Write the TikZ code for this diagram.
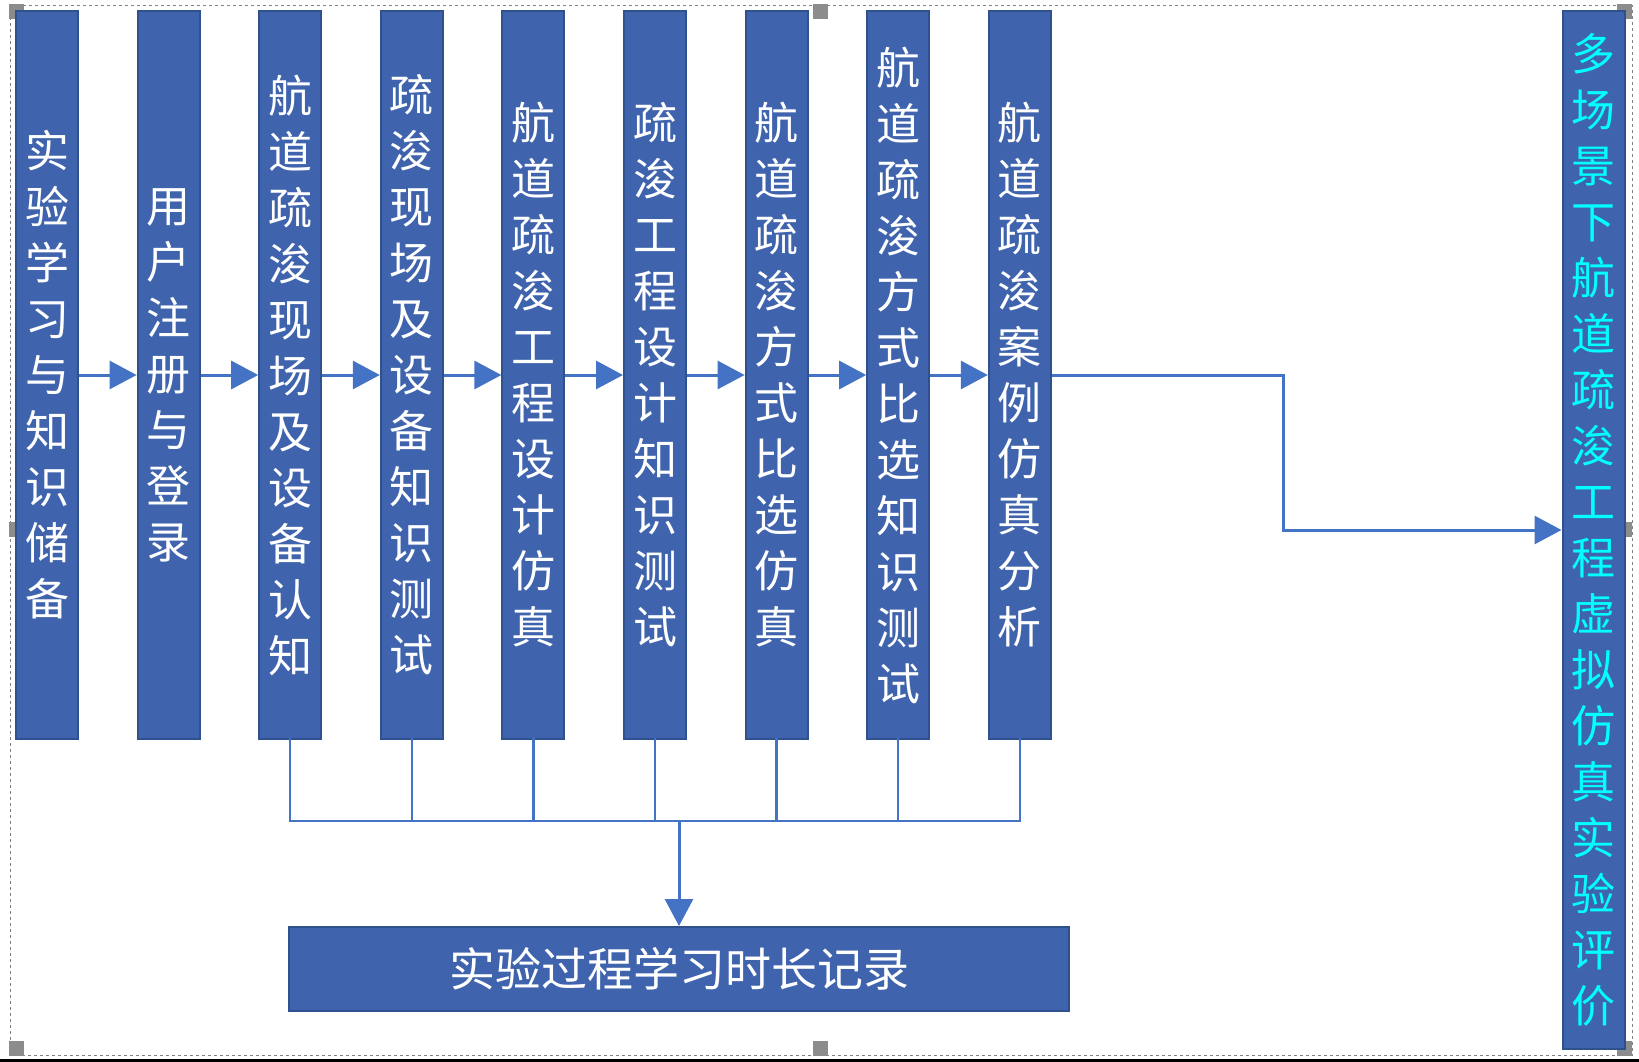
\documentclass[tikz,border=0pt]{standalone}
\usepackage{fontspec}
\setmainfont{Noto Sans CJK SC}
\usetikzlibrary{arrows.meta}
\XeTeXlinebreaklocale "zh"
\XeTeXlinebreakskip=0pt plus 1pt
\definecolor{boxblue}{RGB}{63,100,173}
\definecolor{boxedge}{RGB}{47,82,143}
\definecolor{linkblue}{RGB}{68,114,196}
\definecolor{evaltext}{RGB}{0,255,255}
\tikzset{
  stage/.style={draw=boxedge,line width=2pt,fill=boxblue,text=white,
    minimum width=62pt,minimum height=727pt,inner sep=0pt,
    text width=52pt,align=center,font=\fontsize{44}{56}\selectfont},
  link/.style={draw=linkblue,line width=3pt,-{Triangle[length=27pt,width=28pt]}},
  bus/.style={draw=linkblue,line width=2.5pt,line cap=rect},
  handle/.style={fill=gray!90,draw=none}
}
\begin{document}
\begin{tikzpicture}[x=1pt,y=1pt]
\useasboundingbox (0,0) rectangle (1639,-1062);
% frame of the canvas
\draw[gray,dashed,line width=0.8pt] (10,-5) rectangle (1632,-1055);
\fill[black] (0,-1059) rectangle (1639,-1062);
\foreach \hx/\hy in {9/-4,813/-4,1617/-4,9/-522,1617/-522,9/-1041,813/-1041,1617/-1041}
  \fill[handle] (\hx,\hy) rectangle ++(15,-15);
% steps
\foreach \t [count=\i] in {实验学习与知识储备,用户注册与登录,航道疏浚现场及设备认知,
  疏浚现场及设备知识测试,航道疏浚工程设计仿真,疏浚工程设计知识测试,
  航道疏浚方式比选仿真,航道疏浚方式比选知识测试,航道疏浚案例仿真分析}
  \node[stage] (c\i) at ({47+121.6*(\i-1)},-375) {\t};
\node[stage,minimum height=1037pt,text=evaltext] (eval) at (1593.5,-530)
  {多场景下航道疏浚工程虚拟仿真实验评价};
\node[stage,minimum height=84pt,minimum width=780pt,text width=,
  font=\fontsize{46}{50}\selectfont] (rec) at (679,-969) {实验过程学习时长记录};
% arrows
\foreach \i [remember=\i as \k (initially 1)] in {2,...,9}
  \draw[link] (c\k) -- (c\i);
\draw[link] (c9.east) -- ++(232,0) |- (eval.west);
\coordinate (bus) at (290,-821);
\foreach \i in {3,...,9}
  \draw[bus] (c\i.south) -- (c\i.south |- bus);
\draw[bus] (c3.south |- bus) -- (c9.south |- bus);
\draw[link] (rec.north |- bus) -- (rec.north);
\end{tikzpicture}
\end{document}
